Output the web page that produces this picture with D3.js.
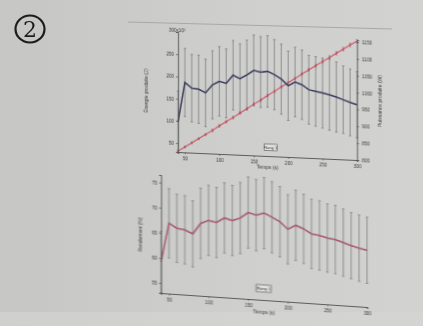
<!DOCTYPE html>
<html><head><meta charset="utf-8">
<script src="https://cdn.jsdelivr.net/npm/d3@7"></script>
<style>html,body{margin:0;padding:0;background:#c9c9c7;}svg{display:block;}</style>
</head><body>
<script>
const times = [40,50,60,70,80,90,100,110,120,130,140,150,160,170,180,190,200,210,220,230,240,250,260,270,280,290,300];
const powerMean = [889,1007,991,989,979,1004,1015,1010,1035,1026,1038,1052,1048,1051,1042,1030,1011,1023,1016,1002,998,994,990,984,977,970,964];
const powerSD = [92,101,100,101,100,101,103,102,103,103,103,105,105,106,104,104,103,103,103,102,103,104,105,104,100,99,98];
const energyMean = [32,42,52,62,72,82,93,103,113,124,134,145,155,166,176,187,197,207,218,228,238,248,258,268,278,288,297];
const energySD = [2,2,2,2,2,3,3,3,3,3,3,3,3,3,3,3,3,3,3,3,3,4,4,4,4,4,4];
const effMean = [59.2,67.0,66.1,65.9,65.2,67.4,68.1,67.8,68.8,68.4,69.0,70.2,69.8,70.3,69.6,68.8,67.4,68.3,67.7,66.8,66.6,66.2,66.0,65.5,65.0,64.6,64.3];
const effSD = [6.1,6.9,6.8,6.8,6.6,7.0,7.0,7.0,7.0,7.0,7.1,7.1,7.1,7.1,7.1,7.0,6.9,7.0,6.9,6.9,6.9,6.8,6.8,6.7,6.6,6.6,6.6];
const timeTicks = [50,100,150,200,250,300];
const energyTicks = [50,100,150,200,250,300];
const powerTicks = [800,850,900,950,1000,1050,1100,1150];
const effTicks = [55,60,65,70,75];
const legendLabel = "Rang 1";

const W = 423, H = 326;
const svg = d3.select("body").append("svg").attr("width", W).attr("height", H);
const defs = svg.append("defs");
defs.append("filter").attr("id","soft").append("feGaussianBlur").attr("stdDeviation",0.35);
const bg = defs.append("linearGradient").attr("id","bg").attr("x1","0").attr("x2","1");
bg.append("stop").attr("offset","0").attr("stop-color","#c6c6c4");
bg.append("stop").attr("offset","0.6").attr("stop-color","#cfcfcd");
bg.append("stop").attr("offset","1").attr("stop-color","#d2d2d0");
svg.append("rect").attr("width",W).attr("height",H).attr("fill","url(#bg)");
// paper edges
svg.append("path").attr("d","M128,22 L392,29").attr("stroke","#a9a9a7").attr("stroke-width",1).attr("fill","none");
svg.append("rect").attr("x",0).attr("y",312).attr("width",W).attr("height",14).attr("fill","#d6d6d4").attr("opacity",0.6);

// circled 2
const mark = svg.append("g").attr("filter","url(#soft)");
mark.append("ellipse").attr("cx",30).attr("cy",29).attr("rx",14.5).attr("ry",13.5)
  .attr("fill","none").attr("stroke","#1c1c1c").attr("stroke-width",2.2);
mark.append("text").attr("x",30).attr("y",37).attr("text-anchor","middle")
  .attr("font-family","DejaVu Serif, serif").attr("font-size",22).attr("fill","#1c1c1c").text("2");

const FONT = "Liberation Sans, Arial, sans-serif";

function styleAxis(g){
  g.selectAll("path.domain").attr("stroke","#505050").attr("stroke-width",0.9);
  g.selectAll(".tick line").attr("stroke","#505050").attr("stroke-width",0.7);
  g.selectAll(".tick text").attr("font-family",FONT).attr("font-size",4.6).attr("fill","#3a3a3a");
}

function errorBars(g, x, y, mean, sd, color, cap, width){
  const eb = g.append("g");
  times.forEach((t,i)=>{
    const xx = x(t), y1 = y(mean[i]-sd[i]), y2 = y(mean[i]+sd[i]);
    eb.append("line").attr("x1",xx).attr("x2",xx).attr("y1",y1).attr("y2",y2)
      .attr("stroke",color).attr("stroke-width",width);
    [y1,y2].forEach(yy=>eb.append("line").attr("x1",xx-cap).attr("x2",xx+cap).attr("y1",yy).attr("y2",yy)
      .attr("stroke",color).attr("stroke-width",width));
  });
}

// ---------- top chart ----------
{
  const x0 = 178, x1 = 357, yT = 32, yB = 152, k = 8/179;
  const g = svg.append("g").attr("transform",`matrix(1,${k},0,1,0,${-k*x0})`).attr("filter","url(#soft)");
  const x = d3.scaleLinear().domain([40,300]).range([x0,x1]);
  const yE = d3.scaleLinear().domain([30,300]).range([yB,yT]);
  const yP = d3.scaleLinear().domain([800,1156]).range([yB,yT]);

  errorBars(g, x, yP, powerMean, powerSD, "#7c7c7c", 1.2, 0.8);
  errorBars(g, x, yE, energyMean, energySD, "#c0606e", 0.9, 0.7);
  g.append("path").datum(times).attr("fill","none").attr("stroke","#c45a6a").attr("stroke-width",1.1)
    .attr("d", d3.line().x(t=>x(t)).y((t,i)=>yE(energyMean[i])));
  g.append("g").selectAll("circle").data(times).join("circle")
    .attr("cx",t=>x(t)).attr("cy",(t,i)=>yE(energyMean[i])).attr("r",0.9).attr("fill","#b04858");
  g.append("path").datum(times).attr("fill","none").attr("stroke","#3a3c5e").attr("stroke-width",1.5)
    .attr("d", d3.line().x(t=>x(t)).y((t,i)=>yP(powerMean[i])));

  const ax = g.append("g").attr("transform",`translate(0,${yB})`)
    .call(d3.axisBottom(x).tickValues(timeTicks).tickSize(2).tickPadding(3));
  styleAxis(ax);
  const ay = g.append("g").attr("transform",`translate(${x0},0)`)
    .call(d3.axisLeft(yE).tickValues(energyTicks).tickSize(2).tickPadding(2)
      .tickFormat(d=> d===300 ? "300x10³" : d));
  styleAxis(ay);
  ay.selectAll(".tick text").filter(d=>d===300).attr("text-anchor","middle").attr("dx",3).attr("dy",-1);
  const ar = g.append("g").attr("transform",`translate(${x1},0)`)
    .call(d3.axisRight(yP).tickValues(powerTicks).tickSize(2).tickPadding(3).tickFormat(d3.format("d")));
  styleAxis(ar);

  g.append("text").attr("transform",`translate(${x0-30},${(yT+yB)/2}) rotate(-90)`)
    .attr("text-anchor","middle").attr("font-family",FONT).attr("font-size",5).attr("fill","#3a3a3a")
    .text("Énergie produite (J)");
  g.append("text").attr("transform",`translate(${x1+25},${(yT+yB)/2}) rotate(-90)`)
    .attr("text-anchor","middle").attr("font-family",FONT).attr("font-size",5).attr("fill","#3a3a3a")
    .text("Puissance produite (W)");
  g.append("text").attr("x",(x0+x1)/2).attr("y",yB+13).attr("text-anchor","middle")
    .attr("font-family",FONT).attr("font-size",5).attr("fill","#3a3a3a").text("Temps (s)");
  const lg = g.append("g").attr("transform",`translate(${x(165)},${yB-12})`);
  lg.append("rect").attr("width",13).attr("height",6.5).attr("fill","#e2e2e0").attr("stroke","#4a4a4a").attr("stroke-width",0.6);
  lg.append("text").attr("x",6.5).attr("y",4.8).attr("text-anchor","middle").attr("font-family",FONT)
    .attr("font-size",4).attr("fill","#333").text(legendLabel);
}

// ---------- bottom chart ----------
{
  const x0 = 161, x1 = 367, yT = 175, yB = 293, k = 14/206;
  const g = svg.append("g").attr("transform",`matrix(1,${k},0,1,0,${-k*x0})`).attr("filter","url(#soft)");
  const x = d3.scaleLinear().domain([40,300]).range([x0,x1]);
  const y = d3.scaleLinear().domain([53,76.5]).range([yB,yT]);

  errorBars(g, x, y, effMean, effSD, "#7c7c7c", 1.2, 0.8);
  g.append("path").datum(times).attr("fill","none").attr("stroke","#a4566a").attr("stroke-width",1.5)
    .attr("d", d3.line().x(t=>x(t)).y((t,i)=>y(effMean[i])));

  const ax = g.append("g").attr("transform",`translate(0,${yB})`)
    .call(d3.axisBottom(x).tickValues(timeTicks).tickSize(2).tickPadding(3));
  styleAxis(ax);
  const ay = g.append("g").attr("transform",`translate(${x0},0)`)
    .call(d3.axisLeft(y).tickValues(effTicks).tickSize(2).tickPadding(2));
  styleAxis(ay);

  g.append("text").attr("transform",`translate(${x0-19},${(yT+yB)/2+2}) rotate(-90)`)
    .attr("text-anchor","middle").attr("font-family",FONT).attr("font-size",5).attr("fill","#3a3a3a")
    .text("Rendement (%)");
  g.append("text").attr("x",(x0+x1)/2).attr("y",yB+14).attr("text-anchor","middle")
    .attr("font-family",FONT).attr("font-size",5).attr("fill","#3a3a3a").text("Temps (s)");
  const lg = g.append("g").attr("transform",`translate(${x(160)},${yB-15})`);
  lg.append("rect").attr("width",15).attr("height",7).attr("fill","#e2e2e0").attr("stroke","#4a4a4a").attr("stroke-width",0.6);
  lg.append("text").attr("x",7.5).attr("y",5.2).attr("text-anchor","middle").attr("font-family",FONT)
    .attr("font-size",4.2).attr("fill","#333").text(legendLabel);
}
</script>
</body></html>
